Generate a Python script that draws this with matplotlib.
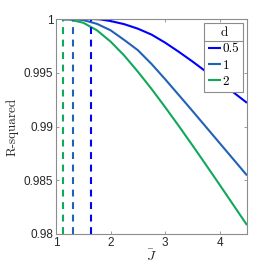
import matplotlib
matplotlib.use("Agg")
import matplotlib.pyplot as plt
from matplotlib.lines import Line2D

# data
x_half = [1.13, 1.4, 1.65, 1.8, 2.0, 2.25, 2.5, 2.75, 3.0, 3.25, 3.5, 3.75, 4.0, 4.25, 4.5]
y_half = [0.99998, 0.99999, 1.0, 0.99997, 0.99981, 0.99952, 0.99910, 0.99855, 0.99780, 0.99695, 0.99605, 0.99510, 0.99415, 0.99318, 0.99220]
x_one = [1.13, 1.2, 1.32, 1.5, 1.75, 2.0, 2.25, 2.5, 2.75, 3.0, 3.25, 3.5, 3.75, 4.0, 4.25, 4.5]
y_one = [0.99996, 0.99999, 1.0, 0.99990, 0.99955, 0.99895, 0.99805, 0.99710, 0.99582, 0.99440, 0.99293, 0.99145, 0.98995, 0.98845, 0.98695, 0.98545]
x_two = [1.13, 1.25, 1.5, 1.75, 2.0, 2.25, 2.5, 2.75, 3.0, 3.25, 3.5, 3.75, 4.0, 4.25, 4.5]
y_two = [1.0, 0.99995, 0.99965, 0.99895, 0.99790, 0.99660, 0.99510, 0.99350, 0.99180, 0.99005, 0.98825, 0.98642, 0.98457, 0.98270, 0.98083]
peaks = [1.646, 1.317, 1.13]
labels = ["0.5", "1", "2"]
colors = ["#0000ff", "#1f62b8", "#12a85c"]
xticks = [1, 2, 3, 4]
yticks = [0.98, 0.985, 0.99, 0.995, 1.0]
yticklabels = ["0.98", "0.985", "0.99", "0.995", "1"]

plt.rcParams["mathtext.fontset"] = "cm"
fig = plt.figure(figsize=(2.73, 2.72), dpi=100)
ax = fig.add_axes([56/273, (272-234)/272, 191/273, 215/272])

series = [(x_half, y_half), (x_one, y_one), (x_two, y_two)]
handles = []
for (xs, ys), c, lab in zip(series, colors, labels):
    h, = ax.plot(xs, ys, color=c, lw=1.5, label=lab, solid_capstyle="butt",
                 solid_joinstyle="round")
    handles.append(h)
for p, c in zip(peaks, colors):
    ax.plot([p, p], [0.98, 1.0], color=c, lw=1.5, ls=(0, (3.3, 2.7)))

ax.set_xlim(1, 4.5)
ax.set_ylim(0.98, 1.0)
ax.set_xticks(xticks)
ax.set_xticklabels([str(t) for t in xticks])
ax.set_yticks(yticks)
ax.set_yticklabels(yticklabels)
axcol = "#8c8c8c"
for s in ax.spines.values():
    s.set_color(axcol)
    s.set_linewidth(0.8)
ax.tick_params(direction="in", length=2.5, width=0.6, color=axcol,
               top=True, right=True, labelsize=8.5, labelcolor="#262626", pad=2)
for lab in ax.get_xticklabels() + ax.get_yticklabels():
    lab.set_fontfamily("Liberation Sans")

ax.set_ylabel("R-squared", fontfamily="cmr10", fontsize=9.5, color="#262626", labelpad=4)
ax.set_xlabel(r"$\bar{J}$", fontsize=10, color="#262626", labelpad=0)

leg = ax.legend(handles=handles, labels=labels, title="d", loc="upper right",
                bbox_to_anchor=(0.981, 0.981), borderaxespad=0,
                prop={"family": "cmr10", "size": 9.5}, handlelength=1.0,
                handletextpad=0.1, labelspacing=0.3, borderpad=0.3,
                fancybox=False, framealpha=1, edgecolor=axcol)
leg.get_title().set_fontfamily("cmr10")
leg.get_title().set_fontsize(9.5)
leg.get_frame().set_linewidth(0.8)

fig.canvas.draw()
bb = leg.get_window_extent()
tb = leg.get_title().get_window_extent()
yl = tb.y0 - 2
inv = fig.transFigure.inverted()
(x0, y0) = inv.transform((bb.x0, yl))
(x1, _) = inv.transform((bb.x1, yl))
fig.add_artist(Line2D([x0, x1], [y0, y0], color=axcol, lw=0.8, transform=fig.transFigure))

fig.savefig("out.png", dpi=100)
